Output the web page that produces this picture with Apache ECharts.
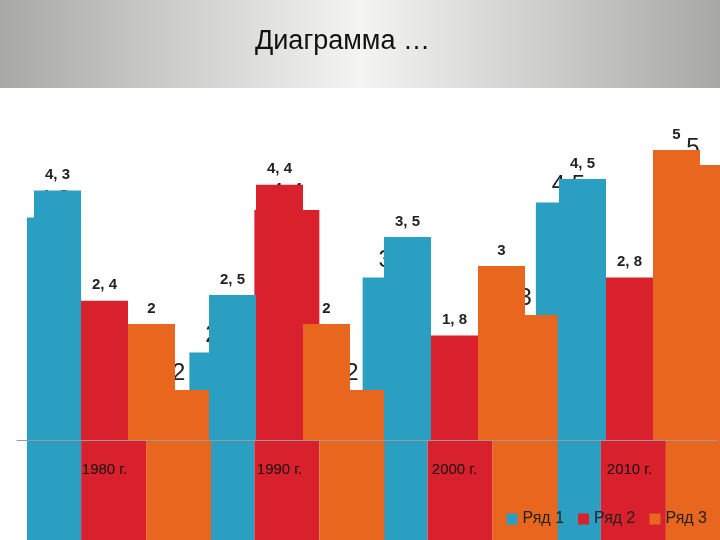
<!DOCTYPE html>
<html>
<head>
<meta charset="utf-8">
<script src="https://cdn.jsdelivr.net/npm/echarts@6/dist/echarts.min.js"></script>
<style>html,body{margin:0;padding:0;background:#fff}#chart{width:720px;height:540px}</style>
</head>
<body>
<div id="chart"></div>
<script>
const categories = ['1980 г.', '1990 г.', '2000 г.', '2010 г.'];
const row1 = [4.3, 2.5, 3.5, 4.5];
const row2 = [2.4, 4.4, 1.8, 2.8];
const row3 = [2, 2, 3, 5];
const seriesNames = ['Ряд 1', 'Ряд 2', 'Ряд 3'];
const colors = ['#2b9fc1', '#d9212d', '#e8661d'];

const chart = echarts.init(document.getElementById('chart'));
const font = 'Liberation Sans, Arial, sans-serif';

const fmt = sep => p => String(p.value).replace('.', sep);

const backSeries = [row1, row2, row3].map((d, i) => ({
  type: 'bar', xAxisIndex: 0, yAxisIndex: 0, data: d, z: 1,
  barWidth: 65, barGap: '0%',
  itemStyle: {color: colors[i]},
  label: {show: true, position: 'top', color: '#222', fontSize: 24, fontFamily: font, formatter: fmt(',')}
}));
const frontSeries = [row1, row2, row3].map((d, i) => ({
  type: 'bar', name: seriesNames[i], xAxisIndex: 1, yAxisIndex: 1, data: d, z: 5,
  barWidth: 47, barGap: '0%',
  itemStyle: {color: colors[i]},
  label: {show: true, position: 'top', color: '#222', fontSize: 15, fontWeight: 'bold', fontFamily: font, distance: 8, formatter: fmt(', ')}
}));

chart.setOption({
  animation: false,
  textStyle: {fontFamily: font},
  graphic: [{
    type: 'rect', z: -10, shape: {x: 0, y: 0, width: 720, height: 88},
    style: {fill: new echarts.graphic.LinearGradient(0, 0, 1, 0, [
      {offset: 0, color: '#a8a8a4'}, {offset: 0.5, color: '#f4f4f2'}, {offset: 1, color: '#a8a8a4'}])}
  }, {
    type: 'text', left: 255, top: 28, z: 10,
    style: {text: 'Диаграмма …', fontSize: 27, fill: '#111', fontFamily: font}
  }],
  legend: {
    data: seriesNames, right: 8, bottom: 8, itemWidth: 11, itemHeight: 11, itemGap: 14, z: 20,
    icon: 'rect', textStyle: {fontSize: 16, color: '#222'}
  },
  grid: [
    {left: 27, top: 90, width: 976, height: 498},
    {left: 17, right: 3, top: 92, bottom: 100}
  ],
  xAxis: [
    {type: 'category', gridIndex: 0, data: categories, show: false},
    {type: 'category', gridIndex: 1, data: categories, z: 20,
      axisLine: {lineStyle: {color: '#999'}}, axisTick: {show: false},
      axisLabel: {fontSize: 15, color: '#111', margin: 22}}
  ],
  yAxis: [
    {type: 'value', gridIndex: 0, min: 0, max: 6, show: false},
    {type: 'value', gridIndex: 1, min: 0, max: 6, show: false}
  ],
  series: backSeries.concat(frontSeries)
});
</script>
</body>
</html>
